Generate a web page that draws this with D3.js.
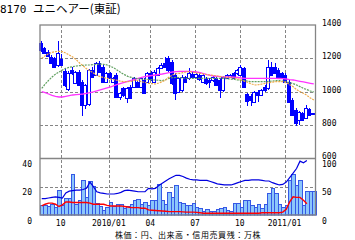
<!DOCTYPE html>
<html><head><meta charset="utf-8">
<script src="https://cdn.jsdelivr.net/npm/d3@7"></script>
<style>body{margin:0;background:#fff}svg{display:block}</style>
</head><body><svg id="c" width="355" height="240"></svg>
<script>
// ---------- DATA ----------
const title = "8170";
const titleName = "ユニヘアー(東証)";
const footer = "株価：円、出来高・信用売買残：万株";
const weeks = d3.utcMonday.range(new Date(Date.UTC(2009,7,17)), new Date(Date.UTC(2011,1,22))).map(d3.utcFormat("%Y-%m-%d"));
const tickWeeks = ["2009-09-28","2010-01-04","2010-03-29","2010-06-28","2010-09-27","2010-12-27"];
const tickLabels = ["10","2010/01","04","07","10","2011/01"];
const priceTicks = [600,800,1000,1200,1400];
const priceGrid = [800,1000,1200];
const volLeftTicks = [0,20,40];
const volRightTicks = [0,50,100];

const open  = [1290,1262,1240,1210,1200,1160,1198,1126,1014,1130,1050,1120,1060,920,925,1130,1100,1170,1150,1060,
               1110,1060,1100,966,1020,962,1030,1030,1060,1030,1070,1060,1114,1060,1100,1140,1174,1200,1180,1100,
               1000,1010,1086,1080,1104,1090,1100,1060,1074,1070,1070,1080,1070,1010,1080,1090,1110,1110,1100,1140,
               985,975,940,1000,980,1030,1020,1150,1150,1130,1110,1100,1060,950,890,830,870,840,894,870];
const high  = [1305,1270,1248,1220,1210,1305,1225,1140,1125,1145,1125,1130,1070,1045,1135,1145,1175,1185,1160,1115,
               1120,1090,1110,1000,1030,1030,1040,1090,1070,1090,1080,1120,1125,1130,1150,1170,1210,1215,1190,1110,
               1090,1100,1095,1140,1115,1110,1110,1105,1085,1080,1095,1090,1080,1095,1105,1105,1120,1135,1160,1150,
               990,985,1005,1010,1015,1040,1190,1175,1170,1140,1120,1110,1070,960,900,885,880,920,900,872];
const low   = [1240,1225,1205,1165,1140,1150,1155,1030,1005,1100,1045,1035,856,895,915,1080,1095,1115,1050,1050,
               1075,1050,960,950,970,930,955,1020,1020,1020,985,1050,1065,1050,1095,1135,1140,1120,1040,950,
               990,1000,1055,1070,1085,1080,1065,1050,1040,1020,1060,1035,960,1000,1075,1085,1070,1100,1095,1020,
               914,914,930,940,975,1000,1010,1095,1105,1085,1075,1055,935,855,794,800,825,835,855,862];
const close = [1250,1232,1212,1172,1150,1232,1162,1040,1114,1112,1120,1040,920,1040,1130,1090,1170,1120,1060,1110,
               1080,1080,970,994,980,1020,960,1080,1030,1080,994,1110,1074,1120,1140,1160,1150,1130,1050,994,
               1080,1090,1060,1110,1090,1104,1074,1100,1050,1060,1090,1040,1010,1090,1100,1100,1080,1130,1150,1030,
               945,950,1000,980,1010,1010,1150,1100,1110,1090,1080,1060,940,860,810,880,830,900,860,865];

const maShort = [1200,1215,1228,1236,1240,1242,1240,1232,1220,1208,1192,1172,1155,1138,1125,1112,1098,1090,1084,1080,
                 1076,1072,1068,1062,1060,1060,1062,1068,1066,1060,1055,1050,1048,1046,1052,1060,1070,1088,1100,1108,
                 1110,1114,1118,1120,1116,1112,1110,1106,1102,1100,1097,1094,1090,1088,1086,1084,1081,1076,1070,1062,
                 1054,1046,1040,1042,1046,1050,1054,1057,1060,1060,1060,1054,1042,1030,1012,1000,990,978,962,950];
const maMid   = [1020,1045,1068,1088,1105,1118,1130,1140,1146,1150,1154,1156,1158,1160,1160,1162,1164,1166,1164,1160,
                 1152,1142,1128,1114,1102,1092,1086,1080,1077,1075,1074,1073,1072,1070,1068,1066,1072,1080,1084,1086,
                 1084,1082,1080,1080,1080,1080,1080,1080,1080,1080,1080,1080,1080,1079,1077,1075,1073,1070,1068,1065,
                 1062,1060,1060,1060,1060,1060,1062,1064,1066,1066,1063,1060,1054,1048,1040,1030,1020,1012,1004,998];
const maLong  = [1000,994,986,978,972,968,968,972,976,980,982,984,986,990,994,998,1004,1010,1016,1022,
                 1028,1036,1044,1050,1056,1062,1068,1074,1080,1085,1090,1094,1097,1100,1103,1106,1110,1114,1118,1120,
                 1122,1122,1122,1122,1120,1118,1114,1108,1102,1098,1094,1092,1090,1089,1088,1088,1087,1085,1082,1080,
                 1080,1080,1080,1080,1080,1080,1080,1080,1080,1079,1078,1076,1072,1070,1066,1062,1058,1054,1050,1046];

const volume = [7,7.3,6,8,5.5,17.5,7,11.7,12,29.2,8,10.5,25,12.9,23.9,20.4,8.6,6,3.5,5.4,
                9.4,6,8,8,4.7,6,8,10.5,11,7.7,9.5,7,10.5,10.5,22.2,10.5,7.7,16.4,12.9,21.5,
                9,8.6,7,7,8.6,5.4,4.7,3,4,3,3,4,4.7,5.4,3.5,3,8.6,8.6,5.4,10.5,
                10.5,7,5.4,8,4.7,8,15.2,19.4,15.2,8,5.4,7,24.6,28.8,21,25,7,17,17,17];
const marginBuy  = [29,29,30,31,32,31,30,39,42,43,44,44,45,47,58,50,41,39,38,37,
                    37,37,38,40,43,44,43,42,41,41,41,47,46,47,52,56,60,64,67,70,
                    70,68,65,63,62,62,61,61,61,59,57,55,54,53,53,53,55,57,59,61,
                    61,62,62,62,61,60,60,57,55,53,54,58,66,74,82,95,92,96];
const marginSell = [16,19,21,21,19,15,18,23,23,22,22,22,22,22,21,19,19,19,19,17,
                    16,16,16,16,15,14,13,13,13,12,12,9,8.5,8,7.6,7,6.5,6,6,6,
                    6,5.5,5,5,5,4.7,4,3,3,3,3,3,3,3,3,3,3,3,3,3,
                    3,3,3,3,4,4,4,4,4,4,5,10,23,32,31,31,26,20];

// ---------- LAYOUT ----------
const L = 40, R = 315.5, T = 25, M = 158.3, B = 215;
const svg = d3.select("#c");
const mono = "'DejaVu Sans Mono', monospace";
const cjk = "'Noto Sans CJK JP', sans-serif";
const frameCol = "#858585";

const x = d3.scaleBand().domain(weeks).range([L, R]);
const bw = x.bandwidth();
const y = d3.scaleLinear().domain([600, 1400]).range([M, T]);
const yv = d3.scaleLinear().domain([0, 40]).range([B, M]);
const ym = d3.scaleLinear().domain([0, 100]).range([B, M]);
const px = v => Math.round(v) + 0.5;

svg.append("rect").attr("width", 355).attr("height", 240).attr("fill", "#fff");

// gridlines
const grid = svg.append("g").attr("stroke", frameCol).attr("stroke-dasharray", "3,2").attr("stroke-width", 1);
grid.selectAll(".hp").data(priceGrid).join("line")
  .attr("x1", L).attr("x2", R).attr("y1", d => px(y(d))).attr("y2", d => px(y(d)));
grid.append("line").attr("x1", L).attr("x2", R).attr("y1", px(yv(20))).attr("y2", px(yv(20)));
grid.selectAll(".vg").data(tickWeeks).join("line")
  .attr("x1", d => px(x(d))).attr("x2", d => px(x(d))).attr("y1", T).attr("y2", B);

// volume bars
svg.append("g").selectAll("rect").data(volume).join("rect")
  .attr("x", (d, i) => Math.round(x(weeks[i])) + 0.5)
  .attr("width", (d, i) => Math.round(x(weeks[i]) + bw) - Math.round(x(weeks[i])))
  .attr("y", d => px(yv(d)))
  .attr("height", d => Math.max(0, B - px(yv(d))))
  .attr("fill", "#8cc6fa").attr("stroke", "#3558e6").attr("stroke-width", 1);

const cx = i => x(weeks[i]) + bw / 2;
const mline = (arr, sc) => d3.line().x((d, i) => cx(i)).y(d => sc(d))(arr);
svg.append("path").attr("d", mline(marginBuy, ym)).attr("fill", "none").attr("stroke", "#0000e0").attr("stroke-width", 1.2);
svg.append("path").attr("d", mline(marginSell, ym)).attr("fill", "none").attr("stroke", "#ff0000").attr("stroke-width", 1.4);

// candles
const cg = svg.append("g");
weeks.forEach((w, i) => {
  const c = Math.round(cx(i));
  const o = open[i], cl = close[i];
  cg.append("line").attr("x1", c - 0.5).attr("x2", c - 0.5)
    .attr("y1", Math.round(y(high[i]))).attr("y2", Math.round(y(low[i])))
    .attr("stroke", "#0000ff").attr("stroke-width", 1);
  const top = px(y(Math.max(o, cl))), bot = px(y(Math.min(o, cl)));
  cg.append("rect").attr("x", c - 2.5).attr("width", 3)
    .attr("y", top).attr("height", Math.max(1, bot - top))
    .attr("fill", cl < o ? "#0000ff" : "#ffffff")
    .attr("stroke", "#0000ff").attr("stroke-width", 1);
});

// moving averages
svg.append("path").attr("d", mline(maLong, y)).attr("fill", "none").attr("stroke", "#ff33ff").attr("stroke-width", 1.3);
svg.append("path").attr("d", mline(maMid, y)).attr("fill", "none").attr("stroke", "#5f9f5f").attr("stroke-width", 1.2).attr("stroke-dasharray", "2,1");
svg.append("path").attr("d", mline(maShort, y)).attr("fill", "none").attr("stroke", "#eeaa48").attr("stroke-width", 1.2).attr("stroke-dasharray", "2,1");

// frame
const fr = svg.append("g").attr("stroke", frameCol).attr("stroke-width", 1.3).attr("fill", "none");
fr.append("rect").attr("x", L).attr("y", T).attr("width", R - L).attr("height", B - T);
fr.append("line").attr("x1", L).attr("x2", R).attr("y1", px(M)).attr("y2", px(M));

// axes
function styleAxis(g, anchor, dy) {
  g.select(".domain").remove();
  g.selectAll("line").remove();
  g.attr("font-family", mono).attr("font-size", 8);
  g.selectAll("text").attr("fill", "#000").attr("text-anchor", anchor).attr("dy", dy);
}
const fmt = d3.format("d");
svg.append("g").attr("transform", "translate(322,0)")
  .call(d3.axisRight(y).tickValues(priceTicks).tickFormat(fmt).tickSize(0).tickPadding(0))
  .call(g => styleAxis(g, "start", 0.5));
svg.append("g").attr("transform", "translate(322,0)")
  .call(d3.axisRight(ym).tickValues(volRightTicks).tickFormat(fmt).tickSize(0).tickPadding(0))
  .call(g => styleAxis(g, "start", 8));
svg.append("g").attr("transform", "translate(32,0)")
  .call(d3.axisLeft(yv).tickValues(volLeftTicks).tickFormat(fmt).tickSize(0).tickPadding(0))
  .call(g => styleAxis(g, "end", 8));
svg.append("g").attr("transform", `translate(${-bw / 2},221)`)
  .call(d3.axisBottom(x).tickValues(tickWeeks).tickFormat((d, i) => tickLabels[i]).tickSize(0).tickPadding(0))
  .call(g => styleAxis(g, "middle", 5));

// title & footer
const t = svg.append("text").attr("x", 0).attr("y", 13).attr("fill", "#000");
t.append("tspan").attr("font-family", mono).attr("font-size", 11).text(title);
t.append("tspan").attr("x", 33).attr("font-family", cjk).attr("font-size", 11.5).text(titleName);
svg.append("text").attr("x", 188).attr("y", 237.8).attr("text-anchor", "middle")
  .attr("font-family", cjk).attr("font-size", 8).attr("letter-spacing", 0.6).attr("fill", "#000").text(footer);
</script>
</body></html>
